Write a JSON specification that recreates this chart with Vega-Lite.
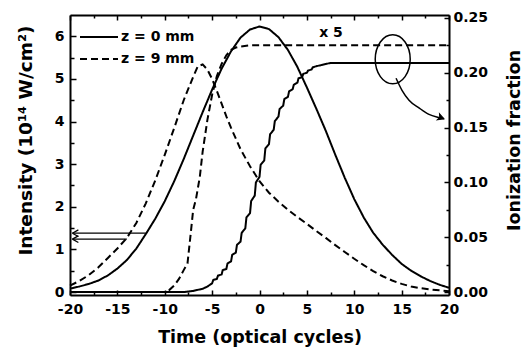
{
  "$schema": "https://vega.github.io/schema/vega-lite/v6.json",
  "width": 379,
  "height": 280,
  "autosize": "none",
  "padding": {"left": 70, "top": 15, "right": 75, "bottom": 59},
  "background": "white",
  "config": {
    "view": {"stroke": null},
    "font": "DejaVu Sans",
    "axis": {
      "grid": false,
      "domainColor": "black",
      "domainWidth": 2,
      "tickColor": "black",
      "tickWidth": 1.5,
      "labelFont": "DejaVu Sans",
      "labelFontWeight": "bold",
      "labelFontSize": 14,
      "labelColor": "black",
      "labelOverlap": false,
      "labelFlush": false,
      "titleFont": "DejaVu Sans",
      "titleFontWeight": "bold",
      "titleFontSize": 17.5,
      "titleColor": "black"
    }
  },
  "datasets": {
    "intensity": [
      {"t": -20, "I": 0.08, "z": "z = 0 mm"}, {"t": -19, "I": 0.13, "z": "z = 0 mm"}, {"t": -18, "I": 0.19, "z": "z = 0 mm"},
      {"t": -17, "I": 0.27, "z": "z = 0 mm"}, {"t": -16, "I": 0.39, "z": "z = 0 mm"}, {"t": -15, "I": 0.55, "z": "z = 0 mm"},
      {"t": -14, "I": 0.75, "z": "z = 0 mm"}, {"t": -13, "I": 1.02, "z": "z = 0 mm"}, {"t": -12, "I": 1.36, "z": "z = 0 mm"},
      {"t": -11, "I": 1.72, "z": "z = 0 mm"}, {"t": -10, "I": 2.13, "z": "z = 0 mm"}, {"t": -9, "I": 2.6, "z": "z = 0 mm"},
      {"t": -8, "I": 3.12, "z": "z = 0 mm"}, {"t": -7, "I": 3.67, "z": "z = 0 mm"}, {"t": -6, "I": 4.22, "z": "z = 0 mm"},
      {"t": -5, "I": 4.75, "z": "z = 0 mm"}, {"t": -4, "I": 5.24, "z": "z = 0 mm"}, {"t": -3, "I": 5.65, "z": "z = 0 mm"},
      {"t": -2, "I": 5.97, "z": "z = 0 mm"}, {"t": -1, "I": 6.16, "z": "z = 0 mm"}, {"t": 0, "I": 6.23, "z": "z = 0 mm"},
      {"t": 1, "I": 6.17, "z": "z = 0 mm"}, {"t": 2, "I": 5.98, "z": "z = 0 mm"}, {"t": 3, "I": 5.68, "z": "z = 0 mm"},
      {"t": 4, "I": 5.28, "z": "z = 0 mm"}, {"t": 5, "I": 4.8, "z": "z = 0 mm"}, {"t": 6, "I": 4.3, "z": "z = 0 mm"},
      {"t": 7, "I": 3.78, "z": "z = 0 mm"}, {"t": 8, "I": 3.22, "z": "z = 0 mm"}, {"t": 9, "I": 2.68, "z": "z = 0 mm"},
      {"t": 10, "I": 2.18, "z": "z = 0 mm"}, {"t": 11, "I": 1.75, "z": "z = 0 mm"}, {"t": 12, "I": 1.39, "z": "z = 0 mm"},
      {"t": 13, "I": 1.11, "z": "z = 0 mm"}, {"t": 14, "I": 0.87, "z": "z = 0 mm"}, {"t": 15, "I": 0.66, "z": "z = 0 mm"},
      {"t": 16, "I": 0.5, "z": "z = 0 mm"}, {"t": 17, "I": 0.37, "z": "z = 0 mm"}, {"t": 18, "I": 0.26, "z": "z = 0 mm"},
      {"t": 19, "I": 0.17, "z": "z = 0 mm"}, {"t": 20, "I": 0.1, "z": "z = 0 mm"},
      {"t": -20, "I": 0.15, "z": "z = 9 mm"}, {"t": -19, "I": 0.26, "z": "z = 9 mm"}, {"t": -18, "I": 0.4, "z": "z = 9 mm"},
      {"t": -17, "I": 0.58, "z": "z = 9 mm"}, {"t": -16, "I": 0.8, "z": "z = 9 mm"}, {"t": -15, "I": 1.02, "z": "z = 9 mm"},
      {"t": -14, "I": 1.27, "z": "z = 9 mm"}, {"t": -13, "I": 1.62, "z": "z = 9 mm"}, {"t": -12, "I": 2.08, "z": "z = 9 mm"},
      {"t": -11, "I": 2.62, "z": "z = 9 mm"}, {"t": -10, "I": 3.22, "z": "z = 9 mm"}, {"t": -9, "I": 3.85, "z": "z = 9 mm"},
      {"t": -8, "I": 4.5, "z": "z = 9 mm"}, {"t": -7, "I": 5.05, "z": "z = 9 mm"}, {"t": -6.5, "I": 5.3, "z": "z = 9 mm"},
      {"t": -6, "I": 5.34, "z": "z = 9 mm"}, {"t": -5.5, "I": 5.22, "z": "z = 9 mm"}, {"t": -5, "I": 5.0, "z": "z = 9 mm"},
      {"t": -4.5, "I": 4.72, "z": "z = 9 mm"}, {"t": -4, "I": 4.42, "z": "z = 9 mm"}, {"t": -3.5, "I": 4.12, "z": "z = 9 mm"},
      {"t": -3, "I": 3.85, "z": "z = 9 mm"}, {"t": -2, "I": 3.35, "z": "z = 9 mm"}, {"t": -1, "I": 2.95, "z": "z = 9 mm"},
      {"t": 0, "I": 2.6, "z": "z = 9 mm"}, {"t": 1, "I": 2.33, "z": "z = 9 mm"}, {"t": 2, "I": 2.12, "z": "z = 9 mm"},
      {"t": 3, "I": 1.93, "z": "z = 9 mm"}, {"t": 4, "I": 1.76, "z": "z = 9 mm"}, {"t": 5, "I": 1.6, "z": "z = 9 mm"},
      {"t": 6, "I": 1.43, "z": "z = 9 mm"}, {"t": 7, "I": 1.27, "z": "z = 9 mm"}, {"t": 8, "I": 1.1, "z": "z = 9 mm"},
      {"t": 9, "I": 0.94, "z": "z = 9 mm"}, {"t": 10, "I": 0.78, "z": "z = 9 mm"}, {"t": 11, "I": 0.63, "z": "z = 9 mm"},
      {"t": 12, "I": 0.49, "z": "z = 9 mm"}, {"t": 13, "I": 0.37, "z": "z = 9 mm"}, {"t": 14, "I": 0.27, "z": "z = 9 mm"},
      {"t": 15, "I": 0.19, "z": "z = 9 mm"}, {"t": 16, "I": 0.13, "z": "z = 9 mm"}, {"t": 17, "I": 0.09, "z": "z = 9 mm"},
      {"t": 18, "I": 0.06, "z": "z = 9 mm"}, {"t": 19, "I": 0.04, "z": "z = 9 mm"}, {"t": 20, "I": 0.02, "z": "z = 9 mm"}
    ],
    "ionization": [
      {"t": -20, "f": 0, "z": "z = 0 mm"}, {"t": -8, "f": 0, "z": "z = 0 mm"}, {"t": -7.5, "f": 0.0005, "z": "z = 0 mm"},
      {"t": -7, "f": 0.001, "z": "z = 0 mm"}, {"t": -6.5, "f": 0.002, "z": "z = 0 mm"}, {"t": -6, "f": 0.003, "z": "z = 0 mm"},
      {"t": -5.5, "f": 0.005, "z": "z = 0 mm"}, {"t": -5, "f": 0.008, "z": "z = 0 mm"}, {"t": -4.88, "f": 0.011, "z": "z = 0 mm"},
      {"t": -4.5, "f": 0.012, "z": "z = 0 mm"}, {"t": -4.38, "f": 0.015, "z": "z = 0 mm"},
      {"t": -4, "f": 0.016, "z": "z = 0 mm"}, {"t": -3.88, "f": 0.02, "z": "z = 0 mm"},
      {"t": -3.5, "f": 0.021, "z": "z = 0 mm"}, {"t": -3.38, "f": 0.026, "z": "z = 0 mm"},
      {"t": -3, "f": 0.028, "z": "z = 0 mm"}, {"t": -2.88, "f": 0.034, "z": "z = 0 mm"},
      {"t": -2.5, "f": 0.036, "z": "z = 0 mm"}, {"t": -2.38, "f": 0.043, "z": "z = 0 mm"},
      {"t": -2, "f": 0.046, "z": "z = 0 mm"}, {"t": -1.88, "f": 0.054, "z": "z = 0 mm"},
      {"t": -1.5, "f": 0.058, "z": "z = 0 mm"}, {"t": -1.38, "f": 0.068, "z": "z = 0 mm"},
      {"t": -1, "f": 0.072, "z": "z = 0 mm"}, {"t": -0.88, "f": 0.083, "z": "z = 0 mm"},
      {"t": -0.5, "f": 0.088, "z": "z = 0 mm"}, {"t": -0.38, "f": 0.1, "z": "z = 0 mm"},
      {"t": 0, "f": 0.105, "z": "z = 0 mm"}, {"t": 0.12, "f": 0.116, "z": "z = 0 mm"},
      {"t": 0.5, "f": 0.12, "z": "z = 0 mm"}, {"t": 0.62, "f": 0.131, "z": "z = 0 mm"},
      {"t": 1, "f": 0.135, "z": "z = 0 mm"}, {"t": 1.12, "f": 0.144, "z": "z = 0 mm"},
      {"t": 1.5, "f": 0.148, "z": "z = 0 mm"}, {"t": 1.62, "f": 0.156, "z": "z = 0 mm"},
      {"t": 2, "f": 0.16, "z": "z = 0 mm"}, {"t": 2.12, "f": 0.167, "z": "z = 0 mm"},
      {"t": 2.5, "f": 0.17, "z": "z = 0 mm"}, {"t": 2.62, "f": 0.176, "z": "z = 0 mm"},
      {"t": 3, "f": 0.178, "z": "z = 0 mm"}, {"t": 3.12, "f": 0.183, "z": "z = 0 mm"},
      {"t": 3.5, "f": 0.185, "z": "z = 0 mm"}, {"t": 3.62, "f": 0.189, "z": "z = 0 mm"},
      {"t": 4, "f": 0.191, "z": "z = 0 mm"}, {"t": 4.12, "f": 0.195, "z": "z = 0 mm"},
      {"t": 4.5, "f": 0.196, "z": "z = 0 mm"}, {"t": 4.62, "f": 0.199, "z": "z = 0 mm"},
      {"t": 5, "f": 0.2, "z": "z = 0 mm"}, {"t": 5.12, "f": 0.202, "z": "z = 0 mm"},
      {"t": 5.5, "f": 0.203, "z": "z = 0 mm"}, {"t": 5.62, "f": 0.205, "z": "z = 0 mm"},
      {"t": 6, "f": 0.206, "z": "z = 0 mm"}, {"t": 6.5, "f": 0.207, "z": "z = 0 mm"},
      {"t": 7, "f": 0.208, "z": "z = 0 mm"}, {"t": 7.5, "f": 0.209, "z": "z = 0 mm"},
      {"t": 8, "f": 0.209, "z": "z = 0 mm"}, {"t": 20, "f": 0.209, "z": "z = 0 mm"},
      {"t": -20, "f": 0, "z": "z = 9 mm"}, {"t": -10, "f": 0, "z": "z = 9 mm"}, {"t": -9.5, "f": 0.002, "z": "z = 9 mm"},
      {"t": -9, "f": 0.006, "z": "z = 9 mm"}, {"t": -8.5, "f": 0.012, "z": "z = 9 mm"}, {"t": -8, "f": 0.02, "z": "z = 9 mm"},
      {"t": -7.6, "f": 0.026, "z": "z = 9 mm"}, {"t": -7.3, "f": 0.05, "z": "z = 9 mm"}, {"t": -7, "f": 0.075, "z": "z = 9 mm"},
      {"t": -6.7, "f": 0.085, "z": "z = 9 mm"}, {"t": -6.3, "f": 0.105, "z": "z = 9 mm"}, {"t": -6, "f": 0.128, "z": "z = 9 mm"},
      {"t": -5.5, "f": 0.157, "z": "z = 9 mm"}, {"t": -5, "f": 0.18, "z": "z = 9 mm"},
      {"t": -4.5, "f": 0.197, "z": "z = 9 mm"}, {"t": -4, "f": 0.208, "z": "z = 9 mm"}, {"t": -3.5, "f": 0.216, "z": "z = 9 mm"},
      {"t": -3, "f": 0.221, "z": "z = 9 mm"}, {"t": -2.5, "f": 0.223, "z": "z = 9 mm"}, {"t": -2, "f": 0.224, "z": "z = 9 mm"},
      {"t": -1, "f": 0.225, "z": "z = 9 mm"}, {"t": 20, "f": 0.225, "z": "z = 9 mm"}
    ],
    "leftArrows": [
      {"t": -12, "I": 1.38, "a": "upper"}, {"t": -19.75, "I": 1.38, "a": "upper"},
      {"t": -14, "I": 1.24, "a": "lower"}, {"t": -19.75, "I": 1.24, "a": "lower"}
    ],
    "leftTips": [
      {"t": -19.75, "I": 1.38}, {"t": -19.75, "I": 1.24}
    ],
    "scaleNote": [{"t": 7.55, "I": 6.07, "label": "x 5"}],
    "ring": [{"t": 14.06, "f": 0.2123}],
    "curvedArrow": [
      {"t": 14.41, "f": 0.195}, {"t": 15.04, "f": 0.184}, {"t": 15.78, "f": 0.175},
      {"t": 16.83, "f": 0.168}, {"t": 17.89, "f": 0.162}, {"t": 19.05, "f": 0.159}, {"t": 19.47, "f": 0.158}
    ],
    "curvedTip": [{"t": 19.47, "f": 0.158}]
  },
  "layer": [
    {
      "encoding": {
        "x": {
          "field": "t", "type": "quantitative",
          "scale": {"domain": [-20, 20], "nice": false, "zero": false},
          "axis": {
            "orient": "bottom",
            "title": "Time (optical cycles)",
            "values": [-20, -17.5, -15, -12.5, -10, -7.5, -5, -2.5, 0, 2.5, 5, 7.5, 10, 12.5, 15, 17.5, 20],
            "labelExpr": "datum.value % 5 == 0 ? '' + datum.value : ''",
            "tickSize": {"condition": {"test": "datum.value % 5 == 0", "value": -5}, "value": -3},
            "labelPadding": 12,
            "titleBaseline": "alphabetic",
            "titleY": 47
          }
        },
        "y": {
          "field": "I", "type": "quantitative",
          "scale": {"domain": [-0.07, 6.5], "nice": false, "zero": false},
          "axis": {
            "orient": "left",
            "title": "Intensity (10¹⁴ W/cm²)",
            "titleFontSize": 18.5,
            "values": [0, 0.5, 1, 1.5, 2, 2.5, 3, 3.5, 4, 4.5, 5, 5.5, 6],
            "labelExpr": "datum.value % 1 == 0 ? '' + datum.value : ''",
            "tickSize": {"condition": {"test": "datum.value % 1 == 0", "value": -6}, "value": -4},
            "labelPadding": 12,
            "titleAngle": 270,
            "titleBaseline": "alphabetic",
            "titleX": -39,
            "titleY": 125
          }
        }
      },
      "layer": [
        {
          "data": {"name": "intensity"},
          "mark": {"type": "line", "color": "black", "strokeWidth": 2},
          "encoding": {
            "strokeDash": {
              "field": "z", "type": "nominal",
              "scale": {"domain": ["z = 0 mm", "z = 9 mm"], "range": [[1, 0], [7, 4]]},
              "legend": {
                "orient": "none", "legendX": 22, "legendY": 15, "title": null, "padding": 0,
                "symbolType": "M-3.8,0L3.8,0", "symbolSize": 100, "symbolStrokeWidth": 2,
                "symbolStrokeColor": "black",
                "labelFont": "DejaVu Sans", "labelFontWeight": "bold", "labelFontSize": 14,
                "labelColor": "black", "labelOffset": 15, "rowPadding": 8
              }
            }
          }
        },
        {
          "data": {"name": "leftArrows"},
          "mark": {"type": "line", "color": "black", "strokeWidth": 1.3},
          "encoding": {"detail": {"field": "a"}}
        },
        {
          "data": {"name": "leftTips"},
          "mark": {
            "type": "point", "shape": "M0,0L1,-0.55M0,0L1,0.55", "size": 144,
            "filled": false, "stroke": "black", "strokeWidth": 1.3, "opacity": 1
          }
        },
        {
          "data": {"name": "scaleNote"},
          "mark": {"type": "text", "font": "DejaVu Sans", "fontWeight": "bold", "fontSize": 14, "color": "black", "baseline": "middle", "align": "center"},
          "encoding": {"text": {"field": "label"}}
        }
      ]
    },
    {
      "encoding": {
        "x": {
          "field": "t", "type": "quantitative",
          "scale": {"domain": [-20, 20], "nice": false, "zero": false},
          "axis": {
            "orient": "top", "title": null, "labels": false,
            "values": [-20, -17.5, -15, -12.5, -10, -7.5, -5, -2.5, 0, 2.5, 5, 7.5, 10, 12.5, 15, 17.5, 20],
            "tickSize": {"condition": {"test": "datum.value % 5 == 0", "value": -5}, "value": -3}
          }
        },
        "y": {
          "field": "f", "type": "quantitative",
          "scale": {"domain": [-0.0027, 0.2527], "nice": false, "zero": false},
          "axis": {
            "orient": "right",
            "title": "Ionization fraction",
            "values": [0, 0.025, 0.05, 0.075, 0.1, 0.125, 0.15, 0.175, 0.2, 0.225, 0.25],
            "format": ".2f",
            "labelExpr": "round(datum.value * 40) % 2 == 0 ? datum.label : ''",
            "tickSize": {"condition": {"test": "round(datum.value * 40) % 2 == 0", "value": -5}, "value": -3},
            "labelPadding": 9,
            "titleAngle": 270,
            "titleBaseline": "alphabetic",
            "titleX": 70,
            "titleY": 125
          }
        }
      },
      "layer": [
        {
          "data": {"name": "ionization"},
          "transform": [{"filter": "datum.z == 'z = 0 mm'"}],
          "mark": {"type": "line", "color": "black", "strokeWidth": 2},
          "encoding": {"strokeDash": {"field": "z", "type": "nominal", "legend": null}}
        },
        {
          "data": {"name": "ionization"},
          "transform": [{"filter": "datum.z == 'z = 9 mm'"}],
          "mark": {"type": "line", "color": "black", "strokeWidth": 2},
          "encoding": {"strokeDash": {"field": "z", "type": "nominal", "legend": null}}
        },
        {
          "data": {"name": "ring"},
          "mark": {
            "type": "point", "shape": "M0,-1A0.714,1,0,1,1,0,1A0.714,1,0,1,1,0,-1Z", "size": 2401,
            "filled": false, "stroke": "black", "strokeWidth": 1.5, "opacity": 1
          }
        },
        {
          "data": {"name": "curvedArrow"},
          "mark": {"type": "line", "color": "black", "strokeWidth": 1.5, "interpolate": "monotone"}
        },
        {
          "data": {"name": "curvedTip"},
          "mark": {
            "type": "point", "shape": "M0,0L-1,-0.55L-0.75,0L-1,0.55Z", "size": 144, "angle": 20,
            "filled": true, "fill": "black", "stroke": "black", "strokeWidth": 1, "opacity": 1
          }
        }
      ]
    }
  ],
  "resolve": {"scale": {"y": "independent"}, "axis": {"x": "independent"}}
}
